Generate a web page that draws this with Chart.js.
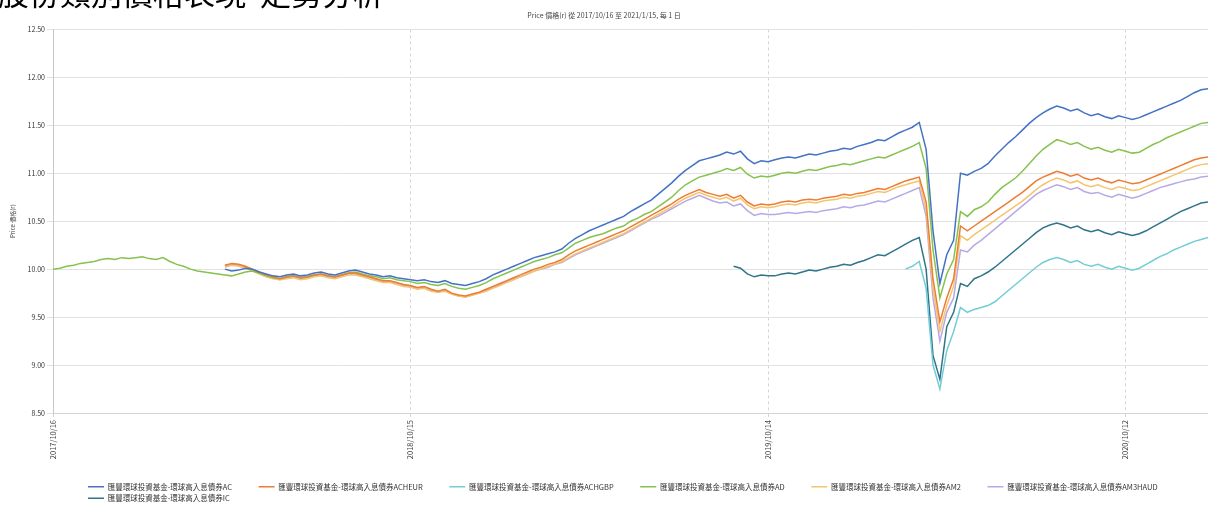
<!DOCTYPE html>
<html lang="zh-Hant">
<head>
  <meta charset="UTF-8" />
  <title>Price 價格(r)</title>
  <script src="https://cdn.jsdelivr.net/npm/chart.js"></script>
  <style>
    body {
      margin: 0;
      padding: 0;
      background: #fff;
      font-family: "Noto Sans CJK TC", "Noto Sans", sans-serif;
      overflow: hidden;
    }
    .page {
      position: relative;
      width: 1208px;
      height: 506px;
    }
    .heading {
      position: absolute;
      top: -24px;
      left: -2px;
      font-size: 31px;
      line-height: 31px;
      color: #000;
      white-space: pre;
      z-index: 2;
    }
    .chart-box {
      position: absolute;
      left: 0;
      top: 0;
      width: 1208px;
      height: 506px;
    }
  </style>
</head>
<body>
  <div class="page">
    <div class="heading">股份類別價格表現  走勢分析</div>
    <div class="chart-box"><canvas id="priceChart"></canvas></div>
  </div>

  <script>
    // ---- data (weekly points, index 0 = 2017/10/16) ----
    const lastWeek = 168;
    const tickWeeks = [0, 52, 104, 156];
    const tickLabels = ['2017/10/16', '2018/10/15', '2019/10/14', '2020/10/12'];

    const seriesNames = [
      '匯豐環球投資基金-環球高入息債券AC',
      '匯豐環球投資基金-環球高入息債券ACHEUR',
      '匯豐環球投資基金-環球高入息債券ACHGBP',
      '匯豐環球投資基金-環球高入息債券AD',
      '匯豐環球投資基金-環球高入息債券AM2',
      '匯豐環球投資基金-環球高入息債券AM3HAUD',
      '匯豐環球投資基金-環球高入息債券IC'
    ];
    // first week index of each series
    const seriesStart = [25, 25, 124, 0, 25, 25, 99];

    const acValues = [
      10.00, 9.98, 9.99, 10.01, 10.00, 9.97, 9.95, 9.93, 9.92, 9.94, 9.95, 9.93, 9.94, 9.96, 9.97, 9.95, 9.94, 9.96, 9.98, 9.99, 9.97, 9.95, 9.94, 9.92, 9.93, 9.91,
      9.90, 9.89, 9.88, 9.89, 9.87, 9.86, 9.88, 9.85, 9.84, 9.83, 9.85, 9.87,
      9.90, 9.94, 9.97, 10.00, 10.03, 10.06, 10.09, 10.12, 10.14, 10.16, 10.18, 10.21,
      10.27, 10.32, 10.36, 10.40, 10.43, 10.46, 10.49, 10.52, 10.55, 10.60, 10.64, 10.68, 10.72, 10.78, 10.84, 10.90, 10.97, 11.03, 11.08, 11.13,
      11.15, 11.17, 11.19, 11.22, 11.20, 11.23, 11.15, 11.10, 11.13, 11.12,
      11.14, 11.16, 11.17, 11.16, 11.18, 11.20, 11.19, 11.21, 11.23, 11.24, 11.26, 11.25, 11.28, 11.30, 11.32, 11.35, 11.34, 11.38, 11.42, 11.45, 11.48,
      11.53, 11.25, 10.40, 9.85, 10.15, 10.30, 11.00, 10.98, 11.02,
      11.05, 11.10, 11.18, 11.25, 11.32, 11.38, 11.45, 11.52, 11.58, 11.63, 11.67, 11.70,
      11.68, 11.65, 11.67, 11.63, 11.60, 11.62, 11.59, 11.57, 11.60, 11.58, 11.56, 11.58,
      11.61, 11.64, 11.67, 11.70, 11.73, 11.76, 11.80, 11.84, 11.87, 11.88
    ];
    const acheurValues = [
      10.04, 10.06, 10.05, 10.03, 10.00, 9.97, 9.94, 9.92, 9.90, 9.92, 9.93, 9.91, 9.92, 9.94, 9.95, 9.93, 9.92, 9.94, 9.96, 9.96, 9.94, 9.92, 9.90, 9.88, 9.88, 9.86,
      9.84, 9.83, 9.81, 9.82, 9.79, 9.77, 9.79, 9.75, 9.73, 9.72, 9.74, 9.76,
      9.79, 9.82, 9.85, 9.88, 9.91, 9.94, 9.97, 10.00, 10.02, 10.05, 10.07, 10.10,
      10.15, 10.19, 10.22, 10.25, 10.28, 10.31, 10.34, 10.37, 10.40, 10.44, 10.48, 10.52, 10.56, 10.60, 10.64, 10.68, 10.73, 10.77, 10.80, 10.83,
      10.80, 10.78, 10.76, 10.78, 10.74, 10.77, 10.70, 10.66, 10.68, 10.67,
      10.68, 10.70, 10.71, 10.70, 10.72, 10.73, 10.72, 10.74, 10.75, 10.76, 10.78, 10.77, 10.79, 10.80, 10.82, 10.84, 10.83, 10.86, 10.89, 10.92, 10.94,
      10.96, 10.70, 9.90, 9.45, 9.70, 9.90, 10.45, 10.40, 10.45,
      10.50, 10.55, 10.60, 10.65, 10.70, 10.75, 10.80, 10.86, 10.92, 10.96, 10.99, 11.02,
      11.00, 10.97, 10.99, 10.95, 10.93, 10.95, 10.92, 10.90, 10.93, 10.91, 10.89, 10.90,
      10.93, 10.96, 10.99, 11.02, 11.05, 11.08, 11.11, 11.14, 11.16, 11.17
    ];
    const achgbpValues = [
      10.00, 10.03,
      10.08, 9.80, 9.00, 8.75, 9.15, 9.35, 9.60, 9.55, 9.58,
      9.60, 9.62, 9.66, 9.72, 9.78, 9.84, 9.90, 9.96, 10.02, 10.07, 10.10, 10.12,
      10.10, 10.07, 10.09, 10.05, 10.03, 10.05, 10.02, 10.00, 10.03, 10.01, 9.99, 10.01,
      10.05, 10.09, 10.13, 10.16, 10.20, 10.23, 10.26, 10.29, 10.31, 10.33
    ];
    const adValues = [
      10.00, 10.01, 10.03, 10.04, 10.06, 10.07, 10.08, 10.10, 10.11, 10.10, 10.12, 10.11, 10.12, 10.13, 10.11, 10.10, 10.12, 10.08, 10.05, 10.03, 10.00, 9.98, 9.97, 9.96, 9.95, 9.94,
      9.93, 9.95, 9.97, 9.98, 9.96, 9.93, 9.91, 9.90, 9.92, 9.93, 9.91, 9.92, 9.94, 9.95, 9.93, 9.92, 9.94, 9.96, 9.97, 9.95, 9.93, 9.92, 9.90, 9.91, 9.89,
      9.88, 9.87, 9.85, 9.86, 9.84, 9.83, 9.85, 9.82, 9.80, 9.79, 9.81, 9.83,
      9.86, 9.90, 9.93, 9.96, 9.99, 10.02, 10.05, 10.08, 10.10, 10.12, 10.15, 10.17,
      10.22, 10.27, 10.30, 10.33, 10.35, 10.37, 10.40, 10.43, 10.45, 10.50, 10.53, 10.57, 10.60, 10.65, 10.70, 10.75, 10.82, 10.88, 10.92, 10.96,
      10.98, 11.00, 11.02, 11.05, 11.03, 11.06, 10.99, 10.95, 10.97, 10.96,
      10.98, 11.00, 11.01, 11.00, 11.02, 11.04, 11.03, 11.05, 11.07, 11.08, 11.10, 11.09, 11.11, 11.13, 11.15, 11.17, 11.16, 11.19, 11.22, 11.25, 11.28,
      11.32, 11.05, 10.20, 9.70, 9.95, 10.10, 10.60, 10.55, 10.62,
      10.65, 10.70, 10.78, 10.85, 10.90, 10.95, 11.02, 11.10, 11.18, 11.25, 11.30, 11.35,
      11.33, 11.30, 11.32, 11.28, 11.25, 11.27, 11.24, 11.22, 11.25, 11.23, 11.21, 11.22,
      11.26, 11.30, 11.33, 11.37, 11.40, 11.43, 11.46, 11.49, 11.52, 11.53
    ];
    const am2Values = [
      10.02, 10.04, 10.03, 10.01, 9.98, 9.95, 9.92, 9.90, 9.89, 9.90, 9.91, 9.89, 9.90, 9.92, 9.93, 9.91, 9.90, 9.92, 9.94, 9.94, 9.92, 9.90, 9.88, 9.86, 9.86, 9.84,
      9.82, 9.81, 9.79, 9.80, 9.77, 9.76, 9.77, 9.74, 9.72, 9.71, 9.73, 9.75,
      9.77, 9.80, 9.83, 9.86, 9.89, 9.92, 9.95, 9.98, 10.00, 10.03, 10.05, 10.08,
      10.12, 10.16, 10.19, 10.22, 10.25, 10.28, 10.31, 10.34, 10.37, 10.41, 10.45, 10.49, 10.53, 10.57, 10.61, 10.65, 10.70, 10.74, 10.77, 10.80,
      10.77, 10.75, 10.73, 10.75, 10.71, 10.74, 10.67, 10.63, 10.65, 10.64,
      10.65, 10.67, 10.68, 10.67, 10.69, 10.70, 10.69, 10.71, 10.72, 10.73, 10.75, 10.74, 10.76, 10.77, 10.79, 10.81, 10.80, 10.83, 10.86, 10.88, 10.90,
      10.92, 10.62, 9.80, 9.35, 9.62, 9.82, 10.35, 10.30, 10.36,
      10.41, 10.46, 10.51, 10.56, 10.61, 10.66, 10.71, 10.77, 10.83, 10.88, 10.92, 10.95,
      10.93, 10.90, 10.92, 10.88, 10.86, 10.88, 10.85, 10.83, 10.86, 10.84, 10.82, 10.83,
      10.86, 10.89, 10.92, 10.95, 10.98, 11.01, 11.04, 11.07, 11.09, 11.10
    ];
    const am3Values = [
      10.03, 10.05, 10.04, 10.02, 9.99, 9.96, 9.93, 9.91, 9.89, 9.91, 9.92, 9.90, 9.91, 9.93, 9.94, 9.92, 9.91, 9.93, 9.95, 9.95, 9.93, 9.91, 9.89, 9.87, 9.87, 9.85,
      9.83, 9.82, 9.80, 9.81, 9.78, 9.76, 9.78, 9.74, 9.72, 9.71, 9.73, 9.75,
      9.78, 9.81, 9.84, 9.87, 9.90, 9.92, 9.95, 9.98, 10.00, 10.02, 10.05, 10.07,
      10.11, 10.15, 10.18, 10.21, 10.24, 10.27, 10.30, 10.33, 10.36, 10.40, 10.44, 10.48, 10.52, 10.55, 10.59, 10.63, 10.67, 10.71, 10.74, 10.77,
      10.74, 10.71, 10.69, 10.70, 10.66, 10.68, 10.61, 10.56, 10.58, 10.57,
      10.57, 10.58, 10.59, 10.58, 10.59, 10.60, 10.59, 10.61, 10.62, 10.63, 10.65, 10.64, 10.66, 10.67, 10.69, 10.71, 10.70, 10.73, 10.76, 10.79, 10.82,
      10.85, 10.55, 9.70, 9.25, 9.55, 9.70, 10.20, 10.18, 10.25,
      10.30, 10.36, 10.42, 10.48, 10.54, 10.60, 10.66, 10.72, 10.78, 10.82, 10.85, 10.88,
      10.86, 10.83, 10.85, 10.81, 10.79, 10.80, 10.77, 10.75, 10.78, 10.76, 10.74, 10.76,
      10.79, 10.82, 10.85, 10.87, 10.89, 10.91, 10.93, 10.94, 10.96, 10.97
    ];
    const icValues = [
      10.03, 10.01, 9.95, 9.92, 9.94, 9.93,
      9.93, 9.95, 9.96, 9.95, 9.97, 9.99, 9.98, 10.00, 10.02, 10.03, 10.05, 10.04, 10.07, 10.09, 10.12, 10.15, 10.14, 10.18, 10.22, 10.26, 10.30,
      10.33, 10.00, 9.10, 8.85, 9.40, 9.55, 9.85, 9.82, 9.90,
      9.93, 9.97, 10.02, 10.08, 10.14, 10.20, 10.26, 10.32, 10.38, 10.43, 10.46, 10.48,
      10.46, 10.43, 10.45, 10.41, 10.39, 10.41, 10.38, 10.36, 10.39, 10.37, 10.35, 10.37,
      10.40, 10.44, 10.48, 10.52, 10.56, 10.60, 10.63, 10.66, 10.69, 10.70
    ];
    const seriesValues = [acValues, acheurValues, achgbpValues, adValues, am2Values, am3Values, icValues];

    // ---- styling ----
    const seriesColors = ['#4472C4', '#ED7D31', '#72CDD6', '#86C24E', '#F5C46E', '#B8A9E6', '#2F7489'];
    const FONT = '"Noto Sans CJK TC", "Noto Sans", sans-serif';
    const LEGEND_X = 88;           // left edge of legend rows
    const LEGEND_DROP = 6;         // legend sits a little lower than Chart.js puts it
    const LEGEND_GAP = '\u2003\u2003\u2003';

    const datasets = seriesValues.map((vals, s) => ({
      label: seriesNames[s],
      data: vals.map((v, i) => ({ x: seriesStart[s] + i, y: v })),
      borderColor: seriesColors[s],
      backgroundColor: seriesColors[s],
      borderWidth: 1.5,
      pointRadius: 0,
      tension: 0
    }));

    // move the legend rows so they start under the plot like the original
    const legendOffset = {
      id: 'legendOffset',
      beforeDraw(chart) {
        const lg = chart.legend;
        lg.left = LEGEND_X - chart.options.plugins.legend.labels.padding;
        lg.top = chart.height - lg.height + LEGEND_DROP;
      }
    };

    new Chart(document.getElementById('priceChart'), {
      type: 'line',
      data: { datasets },
      plugins: [legendOffset],
      options: {
        responsive: true,
        maintainAspectRatio: false,
        animation: false,
        layout: { padding: { left: 0, right: 0, top: 0, bottom: 0 } },
        plugins: {
          title: {
            display: true,
            text: 'Price 價格(r) 從 2017/10/16 至 2021/1/15, 每 1 日',
            color: '#444',
            font: { family: FONT, size: 7, weight: 'normal' },
            padding: { top: 11, bottom: 10 }
          },
          legend: {
            position: 'bottom',
            align: 'start',
            labels: {
              color: '#333',
              font: { family: FONT, size: 7.5 },
              padding: 4,
              usePointStyle: true,
              pointStyle: 'line',
              pointStyleWidth: 16,
              generateLabels(chart) {
                return Chart.defaults.plugins.legend.labels.generateLabels(chart)
                  .map(item => ({ ...item, text: item.text + LEGEND_GAP }));
              }
            }
          },
          tooltip: { enabled: false }
        },
        scales: {
          x: {
            type: 'linear',
            min: 0,
            max: lastWeek,
            afterFit(scale) { scale.height = 60; },
            afterBuildTicks(scale) { scale.ticks = tickWeeks.map(v => ({ value: v })); },
            ticks: {
              autoSkip: false,
              minRotation: 90,
              maxRotation: 90,
              color: '#444',
              padding: 3,
              font: { family: FONT, size: 7.5 },
              callback: (value) => tickLabels[tickWeeks.indexOf(value)]
            },
            grid: { color: '#d4d4d4', tickLength: 4 },
            border: { display: true, color: '#d4d4d4', dash: [3, 3] }
          },
          y: {
            min: 8.5,
            max: 12.5,
            afterFit(scale) { scale.width = 53; },
            ticks: {
              stepSize: 0.5,
              color: '#333',
              padding: 2,
              font: { family: FONT, size: 7 },
              callback: (value) => value.toFixed(2)
            },
            grid: { color: '#e2e2e2', tickLength: 6 },
            border: { display: true, color: '#c8c8c8' },
            title: {
              display: true,
              text: 'Price 價格(r)',
              color: '#444',
              font: { family: FONT, size: 6 },
              padding: { top: 9, bottom: 2 }
            }
          }
        }
      }
    });
  </script>
</body>
</html>
